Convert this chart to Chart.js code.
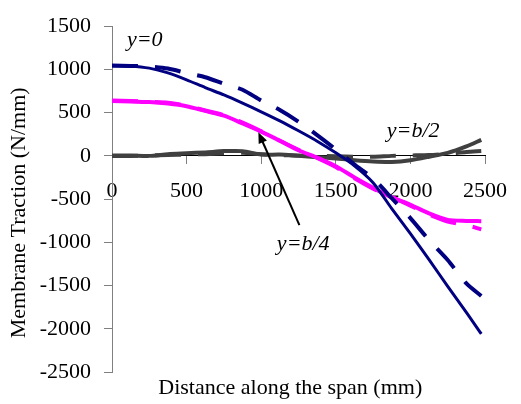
<!DOCTYPE html>
<html>
<head>
<meta charset="utf-8">
<title>Membrane Traction</title>
<script src="https://cdn.jsdelivr.net/npm/chart.js@4.4.0/dist/chart.umd.min.js"></script>
<style>
  body { margin: 0; background: #fff; }
  #wrap { width: 521px; height: 404px; }
</style>
</head>
<body>
<div id="wrap"><canvas id="myChart" width="521" height="404"></canvas></div>
<script>
// distance along the span (mm)
var distance = [0, 125, 250, 375, 500, 625, 750, 875, 1000, 1125, 1250, 1375, 1500, 1625, 1750, 1875, 2000, 2125, 2250, 2375, 2475];

// membrane traction (N/mm)
var y0Solid = [1040, 1038, 1015, 960, 880, 790, 705, 610, 510, 405, 290, 170, 35, -115, -310, -610, -900, -1200, -1510, -1810, -2060];
var y0Dash = [1045, 1040, 1035, 1010, 958, 910, 835, 765, 640, 530, 395, 240, 75, -100, -260, -490, -720, -975, -1205, -1475, -1620];
var b4Solid = [635, 630, 622, 605, 575, 520, 465, 375, 280, 175, 65, -20, -120, -250, -370, -480, -565, -665, -740, -752, -755];
var b4Dash = [640, 635, 625, 615, 580, 525, 470, 385, 285, 175, 70, -25, -130, -260, -380, -475, -575, -680, -760, -800, -850];
var b2Solid = [5, 5, 0, 20, 30, 40, 55, 55, 15, 15, 0, -15, -30, -50, -65, -70, -50, -10, 35, 110, 185];
var b2Dash = [0, 0, 5, 10, 15, 20, 30, 35, 20, 10, 5, 0, -5, -10, -10, 0, 5, 10, 25, 45, 55];

var xTicks = [0, 500, 1000, 1500, 2000, 2500];
var yTicks = [-2500, -2000, -1500, -1000, -500, 0, 500, 1000, 1500];

// labels written on the plot, in data units
var notes = [
  { text: 'y=0', x: 100, y: 1340 },
  { text: 'y=b/2', x: 1842, y: 280 },
  { text: 'y=b/4', x: 1105, y: -1020 }
];
var arrowFrom = { x: 1256, y: -800 };
var arrowTo = { x: 981, y: 274 };

function pts(ys) {
  return ys.map(function (v, i) { return { x: distance[i], y: v }; });
}

function line(ys, color, width, dash) {
  return {
    data: pts(ys),
    borderColor: color,
    borderWidth: width,
    borderDash: dash || [],
    pointRadius: 0,
    tension: 0.25,
    fill: false
  };
}

var serif = "'Liberation Serif', 'Times New Roman', serif";

var notesPlugin = {
  id: 'notes',
  afterDatasetsDraw: function (chart) {
    var ctx = chart.ctx;
    var sx = chart.scales.x, sy = chart.scales.y;
    ctx.save();
    ctx.fillStyle = '#000';
    ctx.font = 'italic 22px ' + serif;
    ctx.textAlign = 'left';
    ctx.textBaseline = 'middle';
    notes.forEach(function (n) {
      ctx.fillText(n.text, sx.getPixelForValue(n.x), sy.getPixelForValue(n.y));
    });

    // arrow pointing at y=b/4 curve
    var x1 = sx.getPixelForValue(arrowFrom.x), y1 = sy.getPixelForValue(arrowFrom.y);
    var x2 = sx.getPixelForValue(arrowTo.x), y2 = sy.getPixelForValue(arrowTo.y);
    var a = Math.atan2(y2 - y1, x2 - x1);
    ctx.strokeStyle = '#000';
    ctx.lineWidth = 2;
    ctx.beginPath();
    ctx.moveTo(x1, y1);
    ctx.lineTo(x2 - 8 * Math.cos(a), y2 - 8 * Math.sin(a));
    ctx.stroke();
    ctx.beginPath();
    ctx.moveTo(x2, y2);
    ctx.lineTo(x2 - 11 * Math.cos(a) + 4.5 * Math.sin(a), y2 - 11 * Math.sin(a) - 4.5 * Math.cos(a));
    ctx.lineTo(x2 - 11 * Math.cos(a) - 4.5 * Math.sin(a), y2 - 11 * Math.sin(a) + 4.5 * Math.cos(a));
    ctx.closePath();
    ctx.fill();
    ctx.restore();
  }
};

var chart = new Chart(document.getElementById('myChart').getContext('2d'), {
  type: 'line',
  data: {
    datasets: [
      line(y0Solid, '#000080', 3),
      line(y0Dash, '#000080', 4, [26, 17]),
      line(b4Solid, '#ff00ff', 4),
      line(b4Dash, '#ff00ff', 4, [26, 17]),
      line(b2Solid, '#404040', 4),
      line(b2Dash, '#404040', 4, [26, 17])
    ]
  },
  options: {
    responsive: false,
    animation: false,
    layout: { padding: { top: 22, right: 25, left: 0, bottom: 0 } },
    plugins: {
      legend: { display: false },
      tooltip: { enabled: false },
      title: {
        display: true,
        position: 'bottom',
        fullSize: false,
        text: 'Distance along the span (mm)   ',
        color: '#000',
        font: { family: serif, size: 22, weight: 'normal' },
        padding: { top: 2.8, bottom: 2.8 }
      }
    },
    scales: {
      x: {
        type: 'linear',
        position: { y: 0 },
        min: 0,
        max: 2500,
        afterBuildTicks: function (s) { s.ticks = xTicks.map(function (v) { return { value: v }; }); },
        ticks: {
          color: '#000',
          font: { family: serif, size: 22 },
          padding: 14,
          maxRotation: 0,
          autoSkip: false,
          callback: function (v) { return String(v); }
        },
        grid: { drawOnChartArea: false, drawTicks: true, tickLength: 8, tickColor: '#808080' },
        border: { display: true, color: '#000', width: 1 }
      },
      y: {
        type: 'linear',
        position: 'left',
        min: -2500,
        max: 1500,
        afterBuildTicks: function (s) { s.ticks = yTicks.map(function (v) { return { value: v }; }); },
        afterFit: function (s) { s.width = 112; },
        ticks: {
          color: '#000',
          font: { family: serif, size: 22 },
          padding: 13,
          autoSkip: false,
          callback: function (v) { return String(v); }
        },
        title: {
          display: true,
          text: 'Membrane Traction (N/mm)     ',
          color: '#000',
          font: { family: serif, size: 22, weight: 'normal' },
          padding: { top: 6, bottom: 0 }
        },
        grid: { drawOnChartArea: false, drawTicks: true, tickLength: 8, tickColor: '#808080' },
        border: { display: true, color: '#808080', width: 1 }
      }
    }
  },
  plugins: [notesPlugin]
});
</script>
</body>
</html>
